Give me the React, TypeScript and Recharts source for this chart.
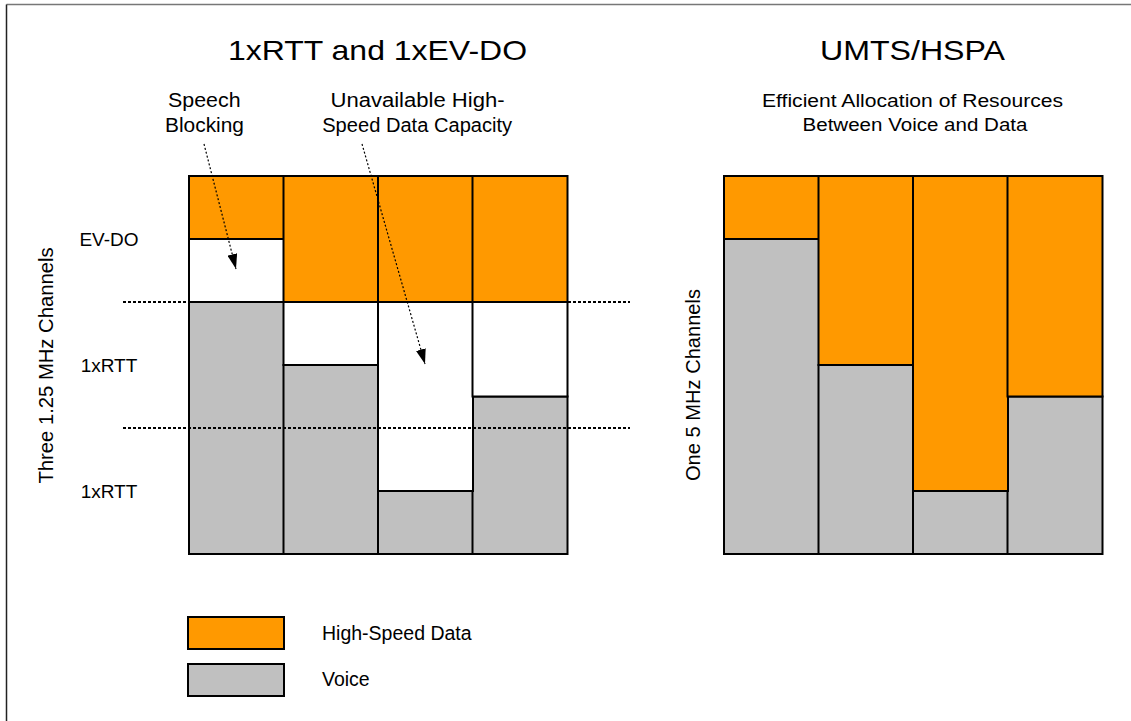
import React from 'react';
import { BarChart, Bar, XAxis, YAxis, ReferenceLine, Legend } from 'recharts';

// ---- data (units: sixths of the total radio capacity) ----
const slots = ['t1', 't2', 't3', 't4'];
const legacyVoice = [4, 3, 1, 2.5];
const legacyUnavailable = [1, 1, 3, 1.5];
const legacyData = [1, 2, 2, 2];
const umtsVoice = [5, 3, 1, 2.5];
const umtsData = [1, 3, 5, 3.5];
const channelTicks = [1, 3, 5];
const channelLabels = ['1xRTT', '1xRTT', 'EV-DO'];
const channelBoundaries = [4, 2];
const legendOrder = ['High-Speed Data', 'Voice'];

const FONT = "'Liberation Sans', Arial, Helvetica, sans-serif";
const ORANGE = '#FF9900';
const GRAY = '#C0C0C0';

const legacyRows = slots.map((s, i) => ({
  slot: s,
  voice: legacyVoice[i],
  unavailable: legacyUnavailable[i],
  data: legacyData[i],
}));
const umtsRows = slots.map((s, i) => ({ slot: s, voice: umtsVoice[i], data: umtsData[i] }));

const ChannelTick = (props: any) => {
  const { x, y, payload } = props;
  const idx = channelTicks.indexOf(payload.value);
  const label = idx >= 0 ? channelLabels[idx] : '';
  return (
    <text x={x - 14} y={y} dy="0.36em" textAnchor="middle" fontSize={19} fontFamily={FONT} fill="#000">
      {label}
    </text>
  );
};

const LegendBox = (props: any) => {
  const items = (props.payload || [])
    .filter((p: any) => p.type !== 'none' && legendOrder.indexOf(String(p.value)) >= 0)
    .slice()
    .sort((a: any, b: any) => legendOrder.indexOf(String(a.value)) - legendOrder.indexOf(String(b.value)));
  return (
    <svg width={320} height={100} style={{ display: 'block' }}>
      {items.map((it: any, i: number) => (
        <g key={String(it.value)}>
          <rect x={8} y={9 + i * 47} width={96} height={32} fill={it.color} stroke="#000" strokeWidth={2} />
          <text x={142} y={31.5 + i * 46.5} fontSize={19.5} fontFamily={FONT} fill="#000">
            {it.value}
          </text>
        </g>
      ))}
    </svg>
  );
};

const Txt = ({ x, y, size, w, children }: any) => (
  <text
    x={x}
    y={y}
    fontSize={size}
    textAnchor="middle"
    textLength={w}
    lengthAdjust="spacingAndGlyphs"
    fontFamily={FONT}
    fill="#000"
  >
    {children}
  </text>
);

export default function App() {
  return (
    <div
      style={{
        position: 'absolute',
        left: 0,
        top: 0,
        width: 1131,
        height: 721,
        overflow: 'hidden',
        background: '#fff',
        fontFamily: FONT,
      }}
    >
      <div style={{ position: 'absolute', left: 0, top: 0 }}>
        <BarChart
          width={640}
          height={721}
          data={legacyRows}
          margin={{ top: 176, right: 10, bottom: 167, left: 0 }}
          barCategoryGap={0}
          barGap={0}
        >
          <XAxis dataKey="slot" hide padding={{ left: 66, right: 63 }} />
          <YAxis
            type="number"
            domain={[0, 6]}
            ticks={channelTicks}
            interval={0}
            width={123}
            axisLine={false}
            tickLine={false}
            tickSize={0}
            tickMargin={0}
            tick={<ChannelTick />}
          />
          <Bar dataKey="voice" name="Voice" stackId="s" fill={GRAY} stroke="#000" strokeWidth={2} isAnimationActive={false} />
          <Bar dataKey="unavailable" name="Unavailable" stackId="s" fill="#FFFFFF" stroke="#000" strokeWidth={2} legendType="none" isAnimationActive={false} />
          <Bar dataKey="data" name="High-Speed Data" stackId="s" fill={ORANGE} stroke="#000" strokeWidth={2} isAnimationActive={false} />
          {channelBoundaries.map((b) => (
            <ReferenceLine key={b} y={b} stroke="#000" strokeWidth={2} strokeDasharray="3 2" />
          ))}
          <Legend
            layout="vertical"
            align="center"
            verticalAlign="middle"
            width={320}
            height={100}
            content={LegendBox}
            wrapperStyle={{ left: 180, top: 608, width: 320, height: 100 }}
          />
        </BarChart>
      </div>

      <div style={{ position: 'absolute', left: 660, top: 0 }}>
        <BarChart
          width={471}
          height={721}
          data={umtsRows}
          margin={{ top: 176, right: 29, bottom: 167, left: 64 }}
          barCategoryGap={0}
          barGap={0}
        >
          <XAxis dataKey="slot" hide />
          <YAxis type="number" domain={[0, 6]} hide />
          <Bar dataKey="voice" name="Voice" stackId="s" fill={GRAY} stroke="#000" strokeWidth={2} isAnimationActive={false} />
          <Bar dataKey="data" name="High-Speed Data" stackId="s" fill={ORANGE} stroke="#000" strokeWidth={2} isAnimationActive={false} />
        </BarChart>
      </div>

      <svg
        width={1131}
        height={721}
        style={{ position: 'absolute', left: 0, top: 0, pointerEvents: 'none' }}
      >
        <defs>
          <marker id="arrowHead" viewBox="0 0 15 10" refX={15} refY={5} markerWidth={15} markerHeight={10} markerUnits="userSpaceOnUse" orient="auto">
            <path d="M0,0 L15,5 L0,10 z" fill="#000" />
          </marker>
        </defs>
        <line x1={6.5} y1={4.5} x2={1131} y2={4.5} stroke="#777" strokeWidth={1.5} />
        <line x1={6.5} y1={4.5} x2={6.5} y2={721} stroke="#222" strokeWidth={1.5} />

        <Txt x={377.5} y={59.5} size={28} w={299}>1xRTT and 1xEV-DO</Txt>
        <Txt x={912.5} y={60} size={28} w={185}>UMTS/HSPA</Txt>
        <Txt x={912.5} y={107} size={17.5} w={301}>Efficient Allocation of Resources</Txt>
        <Txt x={915} y={131} size={17.5} w={225}>Between Voice and Data</Txt>

        <Txt x={204.3} y={107} size={20.5} w={72.5}>Speech</Txt>
        <Txt x={204.5} y={131.5} size={20.5} w={79}>Blocking</Txt>
        <Txt x={417.5} y={107} size={20} w={174}>Unavailable High-</Txt>
        <Txt x={417.2} y={131.5} size={20} w={190}>Speed Data Capacity</Txt>

        <line x1={204} y1={144} x2={236} y2={269} stroke="#000" strokeWidth={1.2} strokeDasharray="2 2" markerEnd="url(#arrowHead)" />
        <line x1={362} y1={144} x2={425} y2={364} stroke="#000" strokeWidth={1.2} strokeDasharray="2 2" markerEnd="url(#arrowHead)" />

        <g transform="translate(53,365.5) rotate(-90)">
          <Txt x={0} y={0} size={20} w={236}>Three 1.25 MHz Channels</Txt>
        </g>
        <g transform="translate(700,385) rotate(-90)">
          <Txt x={0} y={0} size={20} w={192}>One 5 MHz Channels</Txt>
        </g>
      </svg>
    </div>
  );
}
